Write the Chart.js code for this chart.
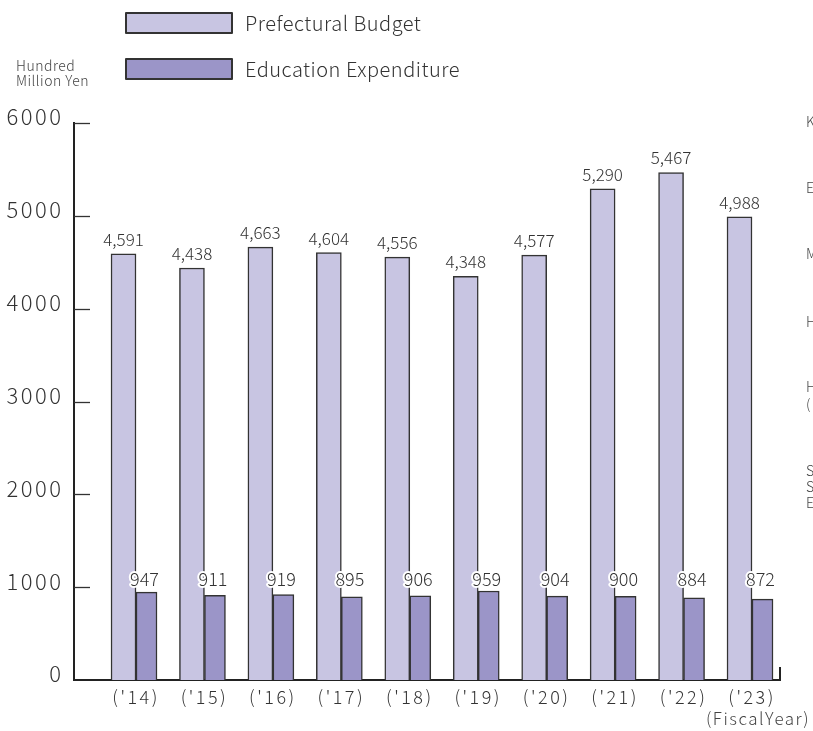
<!DOCTYPE html>
<html>
<head>
<meta charset="utf-8">
<script src="https://cdn.jsdelivr.net/npm/chart.js@4/dist/chart.umd.min.js"></script>
<style>
  html, body { margin: 0; padding: 0; background: #fff; }
  #wrap { width: 813px; height: 731px; }
</style>
</head>
<body>
<div id="wrap"><canvas id="chart"></canvas></div>
<script>
// fiscal years and values (hundred million yen)
const years = ["('14)", "('15)", "('16)", "('17)", "('18)", "('19)", "('20)", "('21)", "('22)", "('23)"];
const prefecturalBudget = [4591, 4438, 4663, 4604, 4556, 4348, 4577, 5290, 5467, 4988];
const educationExpenditure = [947, 911, 919, 895, 906, 959, 904, 900, 884, 872];
const yTicks = [0, 1000, 2000, 3000, 4000, 5000, 6000];
const sideLetters = [['K', 122], ['E', 188], ['M', 254], ['H', 322], ['H', 387], ['(', 404], ['S', 471], ['S', 487], ['E', 503]];

const FONT = "'Noto Sans CJK JP', 'Noto Sans', sans-serif";
const INK = '#333';
const AXIS_SPACING = '2.5px';

// axis tick labels in the original are spaced out a bit
const spacing = {
  id: 'spacing',
  beforeDraw(chart) { chart.ctx.letterSpacing = AXIS_SPACING; }
};

// legend, axis ticks drawn inward, value labels and notes
const extras = {
  id: 'extras',
  afterDatasetsDraw(chart) {
    const ctx = chart.ctx;
    const y = chart.scales.y;
    const area = chart.chartArea;
    ctx.save();
    ctx.letterSpacing = '0px';

    // inward tick marks on the y axis
    ctx.strokeStyle = '#333';
    ctx.lineWidth = 1.3;
    yTicks.forEach(v => {
      if (v === 0) return;
      const py = Math.round(y.getPixelForValue(v)) + 0.5;
      ctx.beginPath();
      ctx.moveTo(area.left, py);
      ctx.lineTo(area.left + 16, py);
      ctx.stroke();
    });
    // small end mark on the x axis
    ctx.lineWidth = 2;
    ctx.strokeStyle = '#222';
    ctx.beginPath();
    ctx.moveTo(area.right, area.bottom);
    ctx.lineTo(area.right, area.bottom - 13);
    ctx.stroke();

    // value labels
    ctx.textAlign = 'center';
    ctx.textBaseline = 'bottom';
    ctx.font = '300 17px ' + FONT;
    ctx.fillStyle = INK;
    chart.getDatasetMeta(0).data.forEach((bar, i) => {
      ctx.fillText(prefecturalBudget[i].toLocaleString('en-US'), bar.x, bar.y - 6);
    });
    ctx.textBaseline = 'middle';
    ctx.lineJoin = 'round';
    ctx.font = '300 18px ' + FONT;
    const labelY = y.getPixelForValue(1000) - 8;
    chart.getDatasetMeta(1).data.forEach((bar, i) => {
      const t = String(educationExpenditure[i]);
      ctx.strokeStyle = '#fff';
      ctx.lineWidth = 4;
      ctx.strokeText(t, bar.x - 2, labelY);
      ctx.fillText(t, bar.x - 2, labelY);
    });

    // legend
    chart.data.datasets.forEach((ds, i) => {
      const top = 13 + i * 46;
      ctx.fillStyle = ds.backgroundColor;
      ctx.fillRect(126, top, 106, 20);
      ctx.strokeStyle = '#333';
      ctx.lineWidth = 2;
      ctx.strokeRect(126, top, 106, 20);
      ctx.fillStyle = INK;
      ctx.textAlign = 'left';
      ctx.letterSpacing = '0.5px';
      ctx.font = '300 20px ' + FONT;
      ctx.fillText(ds.label, 245, top + 10);
    });

    // unit and axis notes
    ctx.fillStyle = '#444';
    ctx.textAlign = 'left';
    ctx.letterSpacing = '0.5px';
    ctx.font = '300 14px ' + FONT;
    ctx.fillText('Hundred', 16, 66);
    ctx.fillText('Million Yen', 16, 81);
    ctx.letterSpacing = '1.5px';
    ctx.font = '300 17px ' + FONT;
    ctx.fillText('(FiscalYear)', 706, 719);
    ctx.letterSpacing = '0px';
    ctx.font = '300 14px ' + FONT;
    sideLetters.forEach(([ch, py]) => ctx.fillText(ch, 806, py));

    ctx.restore();
  }
};

new Chart(document.getElementById('chart'), {
  type: 'bar',
  data: {
    datasets: [
      {
        label: 'Prefectural Budget',
        data: prefecturalBudget.map((v, i) => ({ x: i, y: v })),
        backgroundColor: '#c8c5e2',
        borderColor: '#333',
        borderWidth: 1.5,
        barThickness: 25
      },
      {
        label: 'Education Expenditure',
        data: educationExpenditure.map((v, i) => ({ x: i, y: v })),
        backgroundColor: '#9b95c8',
        borderColor: '#333',
        borderWidth: 1.5,
        barThickness: 21
      }
    ]
  },
  options: {
    responsive: true,
    maintainAspectRatio: false,
    animation: false,
    layout: { padding: { top: 123, right: 33, left: 0, bottom: 0 } },
    plugins: {
      legend: { display: false },
      tooltip: { enabled: false }
    },
    scales: {
      x: {
        type: 'linear',
        min: -0.906,
        max: 9.409,
        offset: false,
        grid: { display: false },
        border: { display: true, color: '#222', width: 2 },
        afterBuildTicks: s => { s.ticks = years.map((_, i) => ({ value: i })); },
        afterFit: s => { s.height = 51; },
        ticks: {
          autoSkip: false,
          maxRotation: 0,
          padding: -2,
          color: INK,
          font: { family: FONT, size: 18, weight: 300 },
          callback: v => years[Math.round(v)]
        }
      },
      y: {
        min: 0,
        max: 6000,
        grid: { display: false, drawTicks: false },
        border: { display: true, color: '#222', width: 2 },
        afterBuildTicks: s => { s.ticks = yTicks.map(v => ({ value: v })); },
        afterFit: s => { s.width = 74; },
        ticks: {
          padding: 10.5,
          labelOffset: -6,
          color: INK,
          font: { family: FONT, size: 22, weight: 300 },
          callback: v => String(v)
        }
      }
    }
  },
  plugins: [spacing, extras]
});
</script>
</body>
</html>
